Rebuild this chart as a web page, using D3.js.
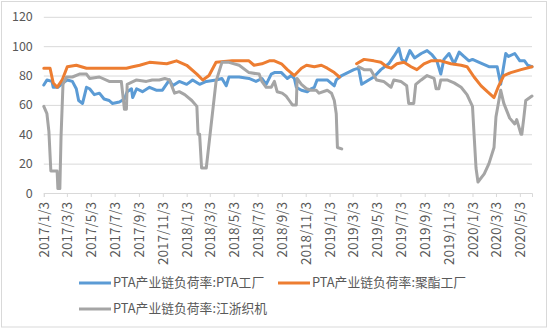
<!DOCTYPE html>
<html><head><meta charset="utf-8">
<script src="https://cdn.jsdelivr.net/npm/d3@7"></script>
<style>
html,body{margin:0;padding:0;background:#fff;}
svg{display:block;}
text{font-family:"Microsoft YaHei","Noto Sans CJK SC","Noto Sans",sans-serif;fill:#595959;}
</style></head><body>
<svg id="c" width="550" height="330"></svg>
<script>
// ---- data ----
const seriesNames = ["PTA产业链负荷率:PTA工厂", "PTA产业链负荷率:聚酯工厂", "PTA产业链负荷率:江浙织机"];
const yTicks = [0, 20, 40, 60, 80, 100, 120];
const xTickLabels = ["2017/1/3","2017/3/3","2017/5/3","2017/7/3","2017/9/3","2017/11/3","2018/1/3","2018/3/3","2018/5/3","2018/7/3","2018/9/3","2018/11/3","2019/1/3","2019/3/3","2019/5/3","2019/7/3","2019/9/3","2019/11/3","2020/1/3","2020/3/3","2020/5/3"];
const xDomain = ["2017-01-03", "2020-06-03"];

const ptaPlant = [
["2017-01-03",73.5],["2017-01-11",77],["2017-01-24",76],["2017-01-27",72],["2017-02-08",72],["2017-02-21",75],
["2017-03-04",77],["2017-03-17",76],["2017-03-27",71],["2017-04-02",63],["2017-04-12",61],["2017-04-22",72],
["2017-04-30",71],["2017-05-12",67],["2017-05-25",68],["2017-06-06",64],["2017-06-19",63],["2017-06-27",61],
["2017-07-15",62],["2017-07-28",64],["2017-08-04",69],["2017-08-15",71],["2017-08-18",65],["2017-08-28",71],
["2017-09-12",69],["2017-09-30",72],["2017-10-17",70],["2017-11-02",70],["2017-11-20",77],["2017-11-28",73],
["2017-12-15",76],["2018-01-03",74],["2018-01-18",77],["2018-02-05",74],["2018-02-22",76],["2018-03-19",77],
["2018-04-03",78],["2018-04-14",73],["2018-04-21",79],["2018-05-17",79],["2018-06-11",78],["2018-06-29",76],
["2018-07-14",78],["2018-07-25",74],["2018-08-07",81],["2018-08-15",82],["2018-09-02",82],["2018-09-17",78],
["2018-09-27",80],["2018-10-05",78],["2018-10-10",72],["2018-10-23",70],["2018-11-07",69],["2018-11-17",71],
["2018-11-25",72],["2018-12-02",77],["2018-12-28",77],["2019-01-15",73],["2019-01-20",77],["2019-02-03",80],
["2019-03-06",84],["2019-03-18",85],["2019-03-26",74],["2019-04-13",77],["2019-04-26",79],["2019-05-14",84],
["2019-06-03",88],["2019-06-16",93],["2019-06-29",98.5],["2019-07-06",91],["2019-07-15",89],["2019-07-27",97],
["2019-08-08",92],["2019-08-25",95],["2019-09-09",97],["2019-09-22",94],["2019-10-04",90],["2019-10-14",81],
["2019-10-22",91],["2019-11-04",95],["2019-11-17",88],["2019-11-30",96],["2019-12-12",93],["2019-12-25",90],
["2020-01-03",91],["2020-01-20",89],["2020-02-14",86],["2020-03-06",86],["2020-03-15",74],["2020-03-28",95],
["2020-04-04",93],["2020-04-20",95],["2020-05-03",90],["2020-05-15",90],["2020-05-23",87],["2020-06-03",86]
];

const polyester = [
["2017-01-03",85],["2017-01-19",85],["2017-01-27",75],["2017-02-06",72],["2017-02-19",77],["2017-03-04",86],
["2017-03-27",87],["2017-04-22",85],["2017-05-25",85],["2017-06-27",85],["2017-08-02",85],["2017-08-18",86],
["2017-09-05",87],["2017-09-30",89],["2017-11-13",88],["2017-12-08",90],["2018-01-03",87],["2018-01-29",81],
["2018-02-13",77],["2018-03-01",80],["2018-03-19",89],["2018-04-29",90],["2018-06-11",90],["2018-06-24",87],
["2018-07-14",88],["2018-08-02",90],["2018-08-15",90],["2018-09-02",88],["2018-09-17",84],["2018-10-05",80],
["2018-10-23",85],["2018-11-05",87],["2018-11-25",86],["2018-12-13",87],["2018-12-28",85],["2019-01-15",82],
["2019-01-28",79],["2019-02-20",null],["2019-03-13",88],["2019-04-01",91],["2019-04-26",90],["2019-05-14",89],
["2019-05-29",86],["2019-06-09",85],["2019-06-24",88],["2019-07-12",89],["2019-07-30",86],["2019-08-14",84],
["2019-09-01",88],["2019-09-19",90],["2019-10-14",90],["2019-11-09",88],["2019-12-05",87],["2019-12-20",86],
["2020-01-07",79],["2020-01-25",73],["2020-02-10",69],["2020-02-27",65],["2020-03-10",73],["2020-03-23",80],
["2020-04-10",82],["2020-05-06",84],["2020-06-03",86]
];

const weaving = [
["2017-01-03",59],["2017-01-11",54],["2017-01-16",42],["2017-01-21",15],["2017-02-06",15],["2017-02-08",3],
["2017-02-13",3],["2017-02-16",38],["2017-02-21",74],["2017-03-02",79],["2017-03-17",79],["2017-04-04",81],
["2017-04-22",81],["2017-04-30",78],["2017-05-25",79],["2017-06-19",76],["2017-07-20",76],["2017-07-28",57],
["2017-08-02",57],["2017-08-04",74],["2017-08-28",77],["2017-09-22",76],["2017-10-07",77],["2017-10-25",77],
["2017-11-08",78],["2017-11-20",77],["2017-12-03",68],["2017-12-15",69],["2017-12-29",67],["2018-01-16",63],
["2018-01-29",59],["2018-02-01",40],["2018-02-05",40],["2018-02-10",17],["2018-02-22",17],["2018-03-19",76],
["2018-04-03",89],["2018-04-21",89],["2018-05-17",87],["2018-06-11",82],["2018-07-07",81],["2018-07-14",76],
["2018-07-25",72],["2018-08-07",72],["2018-08-15",76],["2018-08-22",69],["2018-09-04",68],["2018-09-14",66],
["2018-09-22",63],["2018-09-30",60],["2018-10-10",60],["2018-10-12",78],["2018-10-23",74],["2018-11-05",71],
["2018-11-17",70],["2018-11-30",70],["2018-12-07",68],["2018-12-28",70],["2019-01-08",68],["2019-01-15",63],
["2019-01-20",54],["2019-01-23",31],["2019-02-03",30],["2019-02-20",null],["2019-03-18",86],["2019-04-01",84],
["2019-04-18",84],["2019-05-03",77],["2019-05-21",76],["2019-06-09",72],["2019-06-16",77],["2019-07-04",76],
["2019-07-19",73],["2019-07-24",61],["2019-08-06",61],["2019-08-11",74],["2019-08-25",77],["2019-09-09",80],
["2019-09-27",78],["2019-10-02",71],["2019-10-09",71],["2019-10-14",77],["2019-10-30",77],["2019-11-17",75],
["2019-12-05",72],["2019-12-20",67],["2020-01-03",59],["2020-01-07",40],["2020-01-12",17],["2020-01-17",7.5],
["2020-02-02",13],["2020-02-14",20],["2020-02-27",31],["2020-03-03",52],["2020-03-15",70],["2020-03-23",61],
["2020-04-07",51],["2020-04-20",47],["2020-04-25",50],["2020-05-06",40],["2020-05-08",40],["2020-05-13",51],
["2020-05-18",63],["2020-06-03",66]
];

const colors = ["#5B9BD5", "#ED7D31", "#A5A5A5"];

// ---- drawing ----
const svg = d3.select("#c");
const parse = d3.timeParse("%Y-%m-%d");
const parseLbl = d3.timeParse("%Y/%m/%d");

svg.append("rect").attr("x",1.5).attr("y",1.5).attr("width",545).attr("height",325.5)
  .attr("fill","#fff").attr("stroke","#d9d9d9").attr("stroke-width",1);

const plot = {left:43.8, right:532, top:16.8, bottom:193};
const x = d3.scaleTime().domain(xDomain.map(parse)).range([plot.left, plot.right]);
const y = d3.scaleLinear().domain([0,120]).range([plot.bottom, plot.top]);

// gridlines
const gy = svg.append("g").attr("transform",`translate(${plot.left},0)`)
  .call(d3.axisLeft(y).tickValues(yTicks).tickSize(-(plot.right-plot.left)).tickFormat(d3.format("d")).tickPadding(11));
gy.select(".domain").remove();
gy.selectAll(".tick line").attr("stroke","#d9d9d9").attr("stroke-width",1);
gy.selectAll(".tick text").attr("font-size","12.5px").attr("fill","#595959")
  .style("font-family",'"Microsoft YaHei","Noto Sans CJK SC",sans-serif');

// x axis
const xTickDates = xTickLabels.map(parseLbl);
const gx = svg.append("g").attr("transform",`translate(0,${plot.bottom})`)
  .call(d3.axisBottom(x).tickValues(xTickDates).tickSize(4).tickFormat((d,i)=>xTickLabels[i]));
gx.select(".domain").attr("stroke","#d9d9d9");
gx.selectAll(".tick line").attr("stroke","#d9d9d9");
gx.selectAll(".tick text")
  .attr("font-size","13.5px").attr("fill","#595959")
  .style("font-family",'"Microsoft YaHei","Noto Sans CJK SC",sans-serif')
  .attr("transform","rotate(-90)")
  .attr("text-anchor","end")
  .attr("x",-9).attr("y",0).attr("dy","0.35em");

// lines
const line = d3.line()
  .defined(d => d[1] !== null)
  .x(d => x(parse(d[0])))
  .y(d => y(d[1]));

[ptaPlant, polyester, weaving].forEach((s,i)=>{
  svg.append("path").datum(s)
    .attr("fill","none").attr("stroke",colors[i]).attr("stroke-width",3)
    .attr("stroke-linejoin","round").attr("stroke-linecap","round")
    .attr("d", line);
});

// legend
const legendPos = [[79,283],[278,283],[79,309]];
seriesNames.forEach((n,i)=>{
  const [lx,ly] = legendPos[i];
  svg.append("line").attr("x1",lx).attr("x2",lx+32).attr("y1",ly).attr("y2",ly)
    .attr("stroke",colors[i]).attr("stroke-width",3);
  svg.append("text").attr("x",lx+34).attr("y",ly).attr("dy","0.35em")
    .attr("font-size","12.8px").text(n);
});
</script>
</body></html>
